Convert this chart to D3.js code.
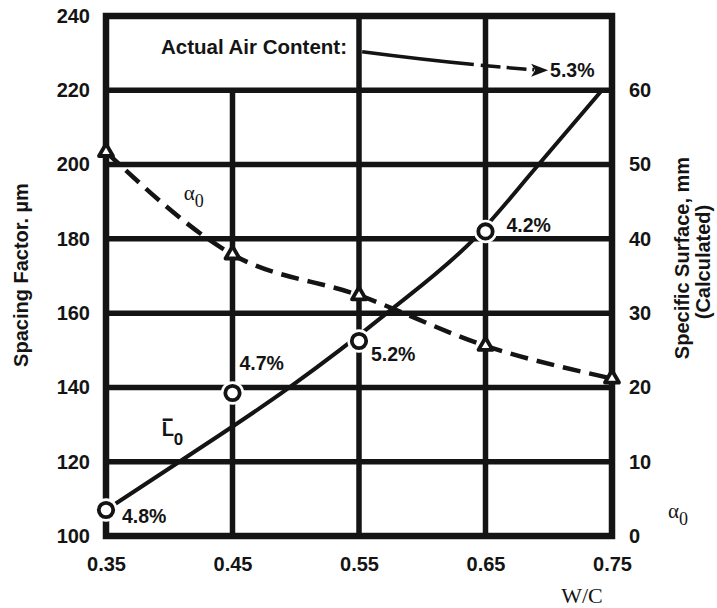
<!DOCTYPE html>
<html>
<head>
<meta charset="utf-8">
<script src="https://cdn.jsdelivr.net/npm/d3@7"></script>
<style>
  html, body { margin: 0; padding: 0; background: #fff; }
  svg { display: block; }
  .sans { font-family: "Liberation Sans", Arial, sans-serif; font-weight: bold; }
  .serif { font-family: "Liberation Serif", "Times New Roman", serif; }
</style>
</head>
<body>
<svg id="chart" width="717" height="608"></svg>
<script>
// Water/cement ratios of the mixes
const wc = [0.35, 0.45, 0.55, 0.65, 0.75];
// Measured spacing factor L̄0 (µm), one marker per mix (last mix has no marker)
const spacingFactor = [107, 138.5, 152.5, 182];
// Smoothed spacing-factor trend (W/C, µm)
const trendWc = [0.35, 0.408, 0.495, 0.572, 0.641, 0.692, 0.742];
const trendSpacing = [107, 120, 140, 160, 180, 200, 220];
// Calculated specific surface α0 (mm⁻¹)
const specificSurface = [51.7, 37.9, 32.4, 25.6, 21.2];
// Actual air content of each measured mix
const airContent = ["4.8%", "4.7%", "5.2%", "4.2%"];
const airContentLast = "5.3%";
// Axis ticks
const leftTicks = [100, 120, 140, 160, 180, 200, 220, 240];
const rightTicks = [0, 10, 20, 30, 40, 50, 60];
const xTicks = [0.35, 0.45, 0.55, 0.65, 0.75];
const xTickLabels = ["0.35", "0.45", "0.55", "0.65", "0.75"];

const svg = d3.select("#chart");
const ink = "#141414";

const x = d3.scaleLinear().domain([0.35, 0.75]).range([106, 612]);
const yL = d3.scaleLinear().domain([100, 240]).range([536, 16]);
const yR = d3.scaleLinear().domain([0, 70]).range([536, 16]);

// ---- grid ----
const grid = svg.append("g").attr("stroke", ink).attr("stroke-width", 5.5);
grid.selectAll("line.h")
  .data(leftTicks.filter(d => d > 100 && d < 240))
  .join("line")
  .attr("x1", x(0.35)).attr("x2", x(0.75))
  .attr("y1", d => yL(d)).attr("y2", d => yL(d));
// interior verticals: 0.45 starts at the 220 line, others span full height
grid.selectAll("line.v")
  .data([0.45, 0.55, 0.65])
  .join("line")
  .attr("x1", d => x(d)).attr("x2", d => x(d))
  .attr("y1", d => d === 0.45 ? yL(220) : yL(240))
  .attr("y2", yL(100));
// frame
svg.append("rect")
  .attr("x", x(0.35)).attr("y", yL(240))
  .attr("width", x(0.75) - x(0.35)).attr("height", yL(100) - yL(240))
  .attr("fill", "none").attr("stroke", ink).attr("stroke-width", 6.5);

// ---- axes ----
function styleAxis(g) {
  g.select(".domain").remove();
  g.selectAll("text").attr("class", "sans").attr("font-size", 20).attr("fill", ink);
}
svg.append("g")
  .attr("transform", `translate(${x(0.35)},0)`)
  .call(d3.axisLeft(yL).tickValues(leftTicks).tickSize(0).tickPadding(16))
  .call(styleAxis);
svg.append("g")
  .attr("transform", `translate(${x(0.75)},0)`)
  .call(d3.axisRight(yR).tickValues(rightTicks).tickSize(0).tickPadding(17))
  .call(styleAxis);
svg.append("g")
  .attr("transform", `translate(0,${yL(100)})`)
  .call(d3.axisBottom(x).tickValues(xTicks).tickFormat((d, i) => xTickLabels[i]).tickSize(0).tickPadding(21))
  .call(styleAxis);

// ---- axis titles ----
svg.append("text").attr("class", "sans").attr("font-size", 20).attr("fill", ink)
  .attr("text-anchor", "middle")
  .attr("transform", "translate(28,275) rotate(-90)")
  .text("Spacing Factor. µm");
svg.append("text").attr("class", "sans").attr("font-size", 20).attr("fill", ink)
  .attr("text-anchor", "middle")
  .attr("transform", "translate(689,258) rotate(-90)")
  .text("Specific Surface, mm");
svg.append("text").attr("class", "sans").attr("font-size", 20).attr("fill", ink)
  .attr("text-anchor", "middle")
  .attr("transform", "translate(710,262) rotate(-90)")
  .text("(Calculated)");
svg.append("text").attr("class", "serif").attr("font-size", 22).attr("fill", ink)
  .attr("text-anchor", "middle")
  .attr("x", 582).attr("y", 603)
  .text("W/C");
// α0 label beside the right axis
const aAxis = svg.append("text").attr("class", "serif").attr("fill", ink)
  .attr("x", 668).attr("y", 518);
aAxis.append("tspan").attr("font-size", 21).text("α");
aAxis.append("tspan").attr("font-size", 18).attr("dy", 7).text("0");

// ---- specific surface α0 (dashed) ----
const alphaPts = wc.map((d, i) => [x(d), yR(specificSurface[i])]);
svg.append("path")
  .attr("d", d3.line().curve(d3.curveMonotoneX)(alphaPts))
  .attr("fill", "none").attr("stroke", ink).attr("stroke-width", 4.5)
  .attr("stroke-dasharray", "18,9");

// ---- spacing factor L̄0 trend (solid) ----
const trendPts = trendWc.map((d, i) => [x(d), yL(trendSpacing[i])]);
svg.append("path")
  .attr("d", d3.line().curve(d3.curveMonotoneX)(trendPts))
  .attr("fill", "none").attr("stroke", ink).attr("stroke-width", 4);

// ---- markers ----
const circPts = spacingFactor.map((v, i) => [x(wc[i]), yL(v)]);
svg.append("g").selectAll("circle")
  .data(circPts).join("circle")
  .attr("cx", d => d[0]).attr("cy", d => d[1]).attr("r", 7.2)
  .attr("fill", "#fff").attr("stroke", "#fff").attr("stroke-width", 9);
svg.append("g").selectAll("circle")
  .data(circPts).join("circle")
  .attr("cx", d => d[0]).attr("cy", d => d[1]).attr("r", 7.2)
  .attr("fill", "#fff").attr("stroke", ink).attr("stroke-width", 3.8);

const tri = d3.symbol().type(d3.symbolTriangle).size(85);
svg.append("g").selectAll("path")
  .data(alphaPts).join("path")
  .attr("d", tri)
  .attr("transform", d => `translate(${d[0]},${d[1]})`)
  .attr("fill", "#fff").attr("stroke", ink).attr("stroke-width", 3.8)
  .attr("stroke-linejoin", "round");

// ---- air content labels ----
const labelOffsets = [[16, 13], [7, -23], [12, 20], [21, 1]];
svg.append("g").selectAll("text")
  .data(airContent).join("text")
  .attr("class", "sans").attr("font-size", 19.5).attr("fill", ink)
  .attr("x", (d, i) => circPts[i][0] + labelOffsets[i][0])
  .attr("y", (d, i) => circPts[i][1] + labelOffsets[i][1])
  .text(d => d);

// ---- "Actual Air Content" annotation with arrow ----
svg.append("text").attr("class", "sans").attr("font-size", 20.5).attr("fill", ink)
  .attr("text-anchor", "end")
  .attr("x", x(0.5405)).attr("y", yL(229.7))
  .text("Actual Air Content:");
const a0 = [x(0.5525), yL(230.4)], a1 = [x(0.6995), yL(225.4)];
const ctrl = [x(0.63), yL(227.0)];
svg.append("path")
  .attr("d", `M${a0[0]},${a0[1]} Q${ctrl[0]},${ctrl[1]} ${a1[0] - 14},${a1[1] - 0.5}`)
  .attr("fill", "none").attr("stroke", ink).attr("stroke-width", 3.5)
  .attr("stroke-dasharray", "112,7,20,6,20,6,60");
svg.append("path")
  .attr("d", `M${a1[0]},${a1[1]} L${a1[0] - 17},${a1[1] - 6.5} L${a1[0] - 13},${a1[1]} L${a1[0] - 17},${a1[1] + 6.5} Z`)
  .attr("fill", ink);
svg.append("text").attr("class", "sans").attr("font-size", 19.5).attr("fill", ink)
  .attr("x", a1[0] + 2).attr("y", a1[1] + 7)
  .text(airContentLast);

// ---- curve labels ----
const aLab = svg.append("text").attr("class", "serif").attr("fill", ink)
  .attr("x", x(0.4115)).attr("y", yL(190.5));
aLab.append("tspan").attr("font-size", 21).text("α");
aLab.append("tspan").attr("font-size", 18).attr("dy", 7).text("0");

const lx = x(0.394), ly = yL(127);
svg.append("text").attr("class", "sans").attr("font-size", 20).attr("fill", ink)
  .attr("x", lx).attr("y", ly).text("L");
svg.append("line")
  .attr("x1", lx + 1).attr("x2", lx + 11)
  .attr("y1", ly - 16).attr("y2", ly - 16)
  .attr("stroke", ink).attr("stroke-width", 2.5);
svg.append("text").attr("class", "sans").attr("font-size", 17).attr("fill", ink)
  .attr("x", lx + 12).attr("y", ly + 9).text("0");
</script>
</body>
</html>
